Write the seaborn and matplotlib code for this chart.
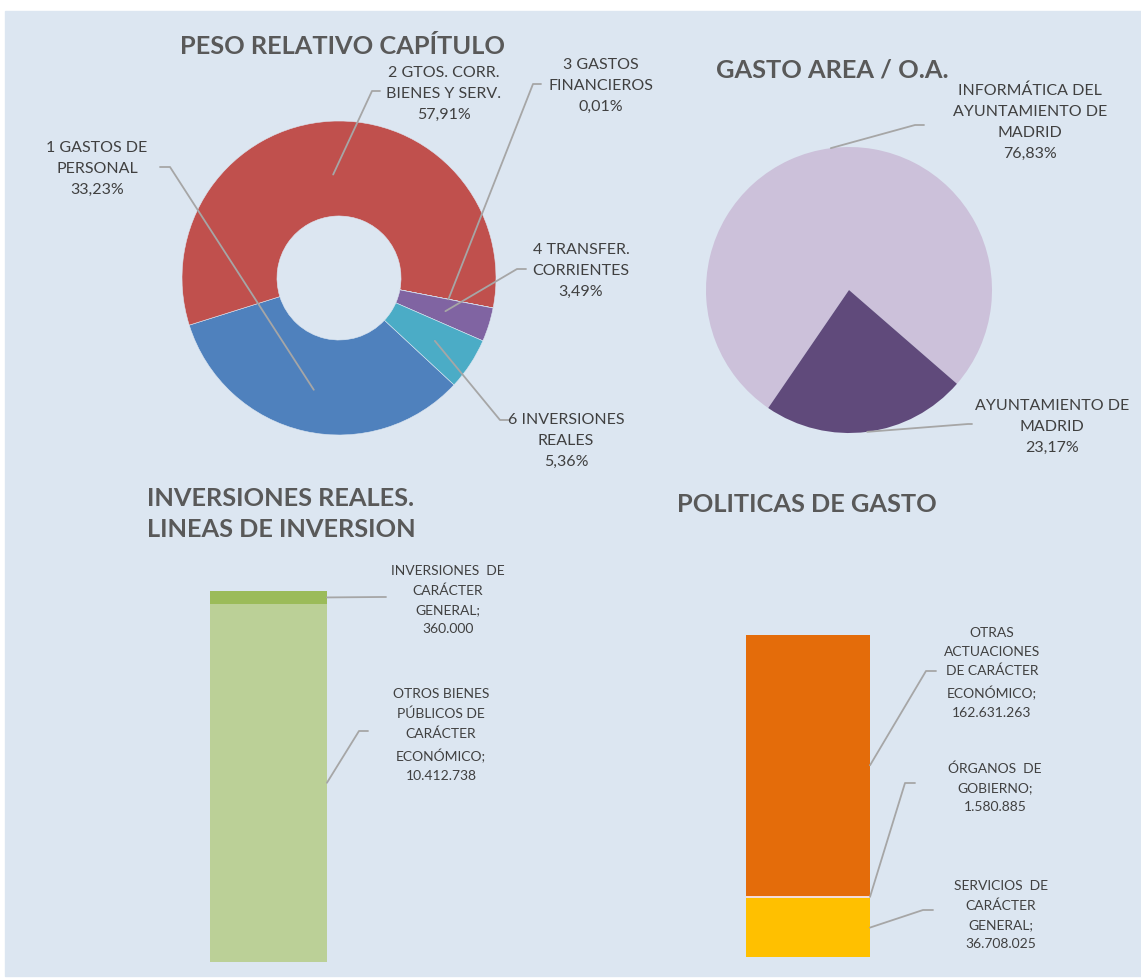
import numpy as np
import pandas as pd
import matplotlib.pyplot as plt
import seaborn as sns
from matplotlib.patches import Rectangle

# datos
capitulos = ['1 GASTOS DE\nPERSONAL', '2 GTOS. CORR.\nBIENES Y SERV.', '3 GASTOS\nFINANCIEROS',
             '4 TRANSFER.\nCORRIENTES', '6 INVERSIONES\nREALES']
peso_capitulo = [33.23, 57.91, 0.01, 3.49, 5.36]
colores_capitulo = ['#4f81bd', '#c0504d', '#9bbb59', '#8064a2', '#4bacc6']

areas = ['INFORMÁTICA DEL\nAYUNTAMIENTO DE\nMADRID', 'AYUNTAMIENTO DE\nMADRID']
peso_area = [76.83, 23.17]
colores_area = ['#ccc1da', '#604a7b']

lineas_inversion = ['OTROS BIENES\nPÚBLICOS DE\nCARÁCTER\nECONÓMICO', 'INVERSIONES  DE\nCARÁCTER\nGENERAL']
importe_inversion = [10412738, 360000]
colores_inversion = ['#bbd097', '#9bbb59']

politicas = ['SERVICIOS  DE\nCARÁCTER\nGENERAL', 'ÓRGANOS  DE\nGOBIERNO',
             'OTRAS\nACTUACIONES\nDE CARÁCTER\nECONÓMICO']
importe_politica = [36708025, 1580885, 162631263]
colores_politica = ['#ffc000', '#f2dcdb', '#e46c0a']

sns.set_theme(style='white')
plt.rcParams['font.family'] = ['Lato', 'DejaVu Sans']

W, H = 1141, 979
fondo = '#dce6f1'
c_titulo = '#595959'
c_texto = '#404040'
c_linea = '#a6a6a6'

fig = plt.figure(figsize=(W / 100, H / 100), dpi=100)


def caja(x0, y0, x1, y1):
    # posicion en pixeles -> fraccion de figura
    return [x0 / W, 1 - y1 / H, (x1 - x0) / W, (y1 - y0) / H]


ax_bg = fig.add_axes([0, 0, 1, 1], zorder=0)
ax_bg.set_xlim(0, W)
ax_bg.set_ylim(H, 0)
ax_bg.axis('off')
ax_bg.add_patch(Rectangle((5, 12), W - 5, H - 14, color=fondo))

ax_top = fig.add_axes([0, 0, 1, 1], zorder=10)
ax_top.set_xlim(0, W)
ax_top.set_ylim(H, 0)
ax_top.axis('off')
ax_top.patch.set_alpha(0)


def a_px(ax, xy):
    return ax_top.transData.inverted().transform(ax.transData.transform(xy))


def guia(ax, xy, codo, fin):
    p = a_px(ax, xy)
    ax_top.plot([p[0], codo[0], fin[0]], [p[1], codo[1], fin[1]], color=c_linea, lw=1.3)


def pct(v):
    return f'{v:.2f}%'.replace('.', ',')


def miles(v):
    return f'{v:,}'.replace(',', '.')


# ---- PESO RELATIVO CAPITULO (donut)
ax1 = fig.add_axes(caja(182, 122, 496, 436), zorder=2)
cuñas, _ = ax1.pie(peso_capitulo, colors=colores_capitulo, startangle=-42.9, counterclock=False,
                   radius=1, wedgeprops=dict(width=0.605, edgecolor=fondo, linewidth=0.4))
ax1.set_xlim(-1, 1)
ax1.set_ylim(-1, 1)

etiq1 = [((97, 169), (170, 168), (160, 168), 0.73),
         ((444, 94), (372, 92), (380, 92), 0.66),
         ((601, 86), (533, 85), (541, 85), 0.71),
         ((581, 271), (517, 270), (526, 270), 0.71),
         ((566, 441), (500, 421), (510, 421), 0.73)]
for w, nom, val, (txt, codo, fin, r) in zip(cuñas, capitulos, peso_capitulo, etiq1):
    a = np.deg2rad((w.theta1 + w.theta2) / 2)
    guia(ax1, (r * np.cos(a), r * np.sin(a)), codo, fin)
    ax_top.text(txt[0], txt[1], nom + '\n' + pct(val), ha='center', va='center',
                fontsize=11.5, color=c_texto, linespacing=1.64)
ax_top.text(343, 47, 'PESO RELATIVO CAPÍTULO', ha='center', va='center',
            fontsize=18.3, fontweight='bold', color=c_titulo)

# ---- GASTO AREA / O.A. (pie)
ax2 = fig.add_axes(caja(706, 148, 992, 434), zorder=2)
cuñas2, _ = ax2.pie(peso_area, colors=colores_area, startangle=235.6, counterclock=False,
                    radius=1, wedgeprops=dict(edgecolor='none'))
ax2.set_xlim(-1, 1)
ax2.set_ylim(-1, 1)
etiq2 = [((1030, 122), (915, 126), (924, 126)),
         ((1052, 427), (968, 425), (972, 425))]
for w, nom, val, (txt, codo, fin) in zip(cuñas2, areas, peso_area, etiq2):
    a = np.deg2rad((w.theta1 + w.theta2) / 2)
    guia(ax2, (np.cos(a), np.sin(a)), codo, fin)
    ax_top.text(txt[0], txt[1], nom + '\n' + pct(val), ha='center', va='center',
                fontsize=11.5, color=c_texto, linespacing=1.64)
ax_top.text(832, 70, 'GASTO AREA / O.A.', ha='center', va='center',
            fontsize=18.3, fontweight='bold', color=c_titulo)


# ---- barras apiladas
def apiladas(ax, nombres, importes, colores, tope, etiquetas):
    df = pd.DataFrame({'nombre': nombres, 'importe': importes})
    df['acum'] = df['importe'].cumsum()
    df['base'] = df['acum'] - df['importe']
    # se pinta del total hacia abajo para que quede apilado
    for i in reversed(range(len(df))):
        sns.barplot(x=['total'], y=[df['acum'][i]], color=colores[i], saturation=1,
                    width=0.8, ax=ax, linewidth=0)
    ax.set_xlim(-0.5, 0.5)
    ax.set_ylim(0, tope)
    ax.axis('off')
    for i, (txt, codo, fin) in enumerate(etiquetas):
        medio = df['base'][i] + df['importe'][i] / 2
        guia(ax, (0.4, medio), codo, fin)
        ax_top.text(txt[0], txt[1], df['nombre'][i] + ';\n' + miles(df['importe'][i]),
                    ha='center', va='center', fontsize=10, color=c_texto, linespacing=1.7)


ax3 = fig.add_axes(caja(195.5, 550, 341.5, 963), zorder=2)
apiladas(ax3, lineas_inversion, importe_inversion, colores_inversion, 12e6,
         [((441, 735), (359, 732), (368, 732)),
          ((448, 600), (380, 598), (386, 598))])
ax_top.text(147, 514, 'INVERSIONES REALES.\nLINEAS DE INVERSION', ha='left', va='center',
            fontsize=18.3, fontweight='bold', color=c_titulo, linespacing=1.45)

ax4 = fig.add_axes(caja(730.5, 605.4, 885.5, 958), zorder=2)
apiladas(ax4, politicas, importe_politica, colores_politica, 220e6,
         [((1001, 915), (923, 911), (933, 911)),
          ((995, 788), (905, 784), (915, 784)),
          ((992, 673), (926, 672), (936, 672))])
ax_top.text(677, 505, 'POLITICAS DE GASTO', ha='left', va='center',
            fontsize=18.3, fontweight='bold', color=c_titulo)

fig.savefig('out.png', dpi=100, facecolor='white')
